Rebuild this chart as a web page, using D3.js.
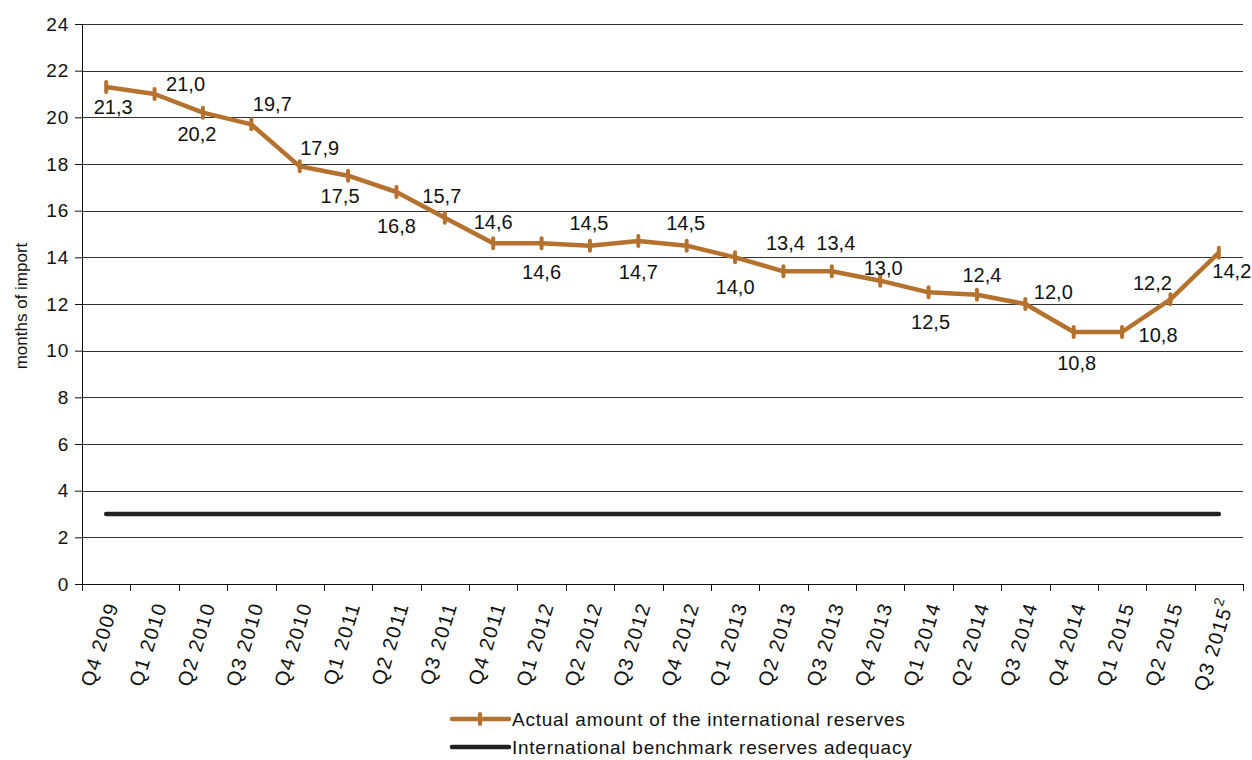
<!DOCTYPE html>
<html lang="en">
  <head>
    <meta charset="UTF-8" />
    <title>International reserves in months of import</title>
    <script src="https://cdnjs.cloudflare.com/ajax/libs/d3/7.8.5/d3.min.js"></script>
    <style>
      body {
        margin: 0;
        background: #fff;
        font-family: 'Liberation Sans', Arial, Helvetica, sans-serif;
      }
      svg text {
        fill: #111;
      }
      .grid line {
        stroke: #333;
        stroke-width: 1px;
      }
    </style>
  </head>
  <body>
    <svg width="1252" height="760"></svg>
    <script>
      // Data
      const quarters = [
        'Q4 2009', 'Q1 2010', 'Q2 2010', 'Q3 2010', 'Q4 2010', 'Q1 2011', 'Q2 2011', 'Q3 2011',
        'Q4 2011', 'Q1 2012', 'Q2 2012', 'Q3 2012', 'Q4 2012', 'Q1 2013', 'Q2 2013', 'Q3 2013',
        'Q4 2013', 'Q1 2014', 'Q2 2014', 'Q3 2014', 'Q4 2014', 'Q1 2015', 'Q2 2015', 'Q3 2015',
      ];
      const lastNote = '2'; // footnote on the last quarter
      const actualReserves = [
        21.3, 21.0, 20.2, 19.7, 17.9, 17.5, 16.8, 15.7, 14.6, 14.6, 14.5, 14.7,
        14.5, 14.0, 13.4, 13.4, 13.0, 12.5, 12.4, 12.0, 10.8, 10.8, 12.2, 14.2,
      ];
      const benchmark = 3;
      const yTicks = [0, 2, 4, 6, 8, 10, 12, 14, 16, 18, 20, 22, 24];
      const seriesNames = [
        'Actual amount of the international reserves',
        'International benchmark reserves adequacy',
      ];

      // where each value label sits relative to its point (dx, dy in px)
      const labelOffsets = [
        [7, 20], [31, -10], [-6, 21], [21, -20], [20, -18], [-8, 20], [0, 34], [-3, -22],
        [0, -21], [0, 29], [-1, -23], [0, 31], [-1, -23], [0, 30], [2, -28], [4, -28],
        [3, -13], [2, 30], [5, -20], [28, -12], [3, 31], [36, 3], [-18, -16], [13, 18],
      ];

      const copper = '#b5722f';
      const svg = d3.select('svg');
      const margin = { top: 24, right: 9, bottom: 176, left: 82 };
      const width = 1252 - margin.left - margin.right;
      const height = 760 - margin.top - margin.bottom;
      const g = svg.append('g').attr('transform', `translate(${margin.left},${margin.top})`);

      const x = d3.scaleBand().domain(quarters).range([0, width]);
      const y = d3.scaleLinear().domain([0, 24]).range([height, 0]);
      const cx = d => x(d) + x.bandwidth() / 2;

      // Horizontal grid
      g.append('g')
        .attr('class', 'grid')
        .selectAll('line')
        .data(yTicks.slice(1))
        .join('line')
        .attr('x1', 0)
        .attr('x2', width)
        .attr('y1', d => Math.round(y(d)) + 0.5)
        .attr('y2', d => Math.round(y(d)) + 0.5);

      // Y axis
      const yAxis = g.append('g')
        .call(d3.axisLeft(y).tickValues(yTicks).tickSize(7).tickPadding(6).tickFormat(d3.format('d')));
      yAxis.select('.domain').attr('stroke', '#111');
      yAxis.selectAll('.tick line').attr('stroke', '#111');
      yAxis.selectAll('text')
        .attr('font-size', 19)
        .attr('letter-spacing', 0.8)
        .attr('font-family', 'inherit')
        .attr('fill', '#111');

      // X axis: ticks on band edges
      g.append('line')
        .attr('x1', 0)
        .attr('x2', width)
        .attr('y1', height + 0.5)
        .attr('y2', height + 0.5)
        .attr('stroke', '#111');
      const edges = quarters.map(q => x(q)).concat([width]);
      g.selectAll('.xtick')
        .data(edges)
        .join('line')
        .attr('class', 'xtick')
        .attr('x1', d => Math.round(d) + 0.5)
        .attr('x2', d => Math.round(d) + 0.5)
        .attr('y1', height)
        .attr('y2', height + 7)
        .attr('stroke', '#111');

      const xLabels = g.selectAll('.xlabel')
        .data(quarters)
        .join('text')
        .attr('class', 'xlabel')
        .attr('font-size', 20)
        .attr('letter-spacing', 1.4)
        .attr('text-anchor', 'end')
        .attr('transform', d => `translate(${cx(d) + 6},${height + 19}) rotate(-73)`)
        .attr('dy', '0.35em');
      xLabels.append('tspan').text(d => d);
      xLabels
        .filter((d, i) => i === quarters.length - 1)
        .append('tspan')
        .attr('font-size', 14)
        .attr('dy', '-0.7em')
        .text(lastNote);
      xLabels
        .filter((d, i) => i === quarters.length - 1)
        .attr('transform', d => `translate(${cx(d) + 9},${height + 15}) rotate(-73)`);

      // Y axis title
      svg.append('text')
        .attr('transform', `translate(27,${margin.top + height / 2 + 2}) rotate(-90)`)
        .attr('text-anchor', 'middle')
        .attr('font-size', 17)
        .text('months of import');

      // Benchmark line
      g.append('line')
        .attr('x1', cx(quarters[0]))
        .attr('x2', cx(quarters[quarters.length - 1]))
        .attr('y1', y(benchmark))
        .attr('y2', y(benchmark))
        .attr('stroke', '#222')
        .attr('stroke-width', 4.5)
        .attr('stroke-linecap', 'round');

      // Actual reserves line
      const line = d3.line()
        .x((d, i) => cx(quarters[i]))
        .y(d => y(d));
      g.append('path')
        .datum(actualReserves)
        .attr('fill', 'none')
        .attr('stroke', copper)
        .attr('stroke-width', 4.5)
        .attr('stroke-linejoin', 'round')
        .attr('d', line);

      // Dash markers
      g.selectAll('.marker')
        .data(actualReserves)
        .join('line')
        .attr('class', 'marker')
        .attr('x1', (d, i) => cx(quarters[i]))
        .attr('x2', (d, i) => cx(quarters[i]))
        .attr('y1', d => y(d) - 5)
        .attr('y2', d => y(d) + 5)
        .attr('stroke', copper)
        .attr('stroke-width', 4)
        .attr('stroke-linecap', 'round');

      // Value labels
      const fmt = v => d3.format('.1f')(v).replace('.', ',');
      g.selectAll('.vlabel')
        .data(actualReserves)
        .join('text')
        .attr('class', 'vlabel')
        .attr('font-size', 20)
        .attr('text-anchor', 'middle')
        .attr('x', (d, i) => cx(quarters[i]) + labelOffsets[i][0])
        .attr('y', (d, i) => y(d) + labelOffsets[i][1])
        .attr('dy', '0.35em')
        .text(fmt);

      // Legend
      const legend = svg.append('g').attr('transform', 'translate(450,719)');
      const rows = legend.selectAll('g')
        .data(seriesNames)
        .join('g')
        .attr('transform', (d, i) => `translate(0,${i * 28})`);
      rows.append('line')
        .attr('x1', 2)
        .attr('x2', 59)
        .attr('stroke', (d, i) => (i === 0 ? copper : '#222'))
        .attr('stroke-width', 4.5)
        .attr('stroke-linecap', 'round');
      rows.filter((d, i) => i === 0)
        .append('line')
        .attr('x1', 30)
        .attr('x2', 30)
        .attr('y1', -5)
        .attr('y2', 5)
        .attr('stroke', copper)
        .attr('stroke-width', 4)
        .attr('stroke-linecap', 'round');
      rows.append('text')
        .attr('x', 62)
        .attr('dy', '0.35em')
        .attr('font-size', 19)
        .attr('letter-spacing', 0.75)
        .text(d => d);
    </script>
  </body>
</html>
